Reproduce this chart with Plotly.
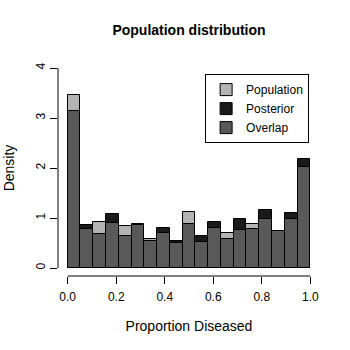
import plotly.graph_objects as go

# histogram breaks: 19 equal bins on [0, 1]
n_bins = 19
breaks = [i / n_bins for i in range(n_bins + 1)]

# densities
population = [3.46, 0.79, 0.92, 0.90, 0.85, 0.87, 0.58, 0.70, 0.51, 1.12,
              0.53, 0.80, 0.70, 0.77, 0.89, 0.98, 0.75, 0.99, 2.03]
posterior = [3.15, 0.86, 0.69, 1.09, 0.65, 0.88, 0.55, 0.80, 0.55, 0.88,
             0.65, 0.93, 0.58, 0.98, 0.78, 1.17, 0.74, 1.10, 2.19]
overlap = [min(a, b) for a, b in zip(population, posterior)]

x_ticks = [0.0, 0.2, 0.4, 0.6, 0.8, 1.0]
y_ticks = [0, 1, 2, 3, 4]

centers = [(breaks[i] + breaks[i + 1]) / 2 for i in range(n_bins)]
widths = [breaks[i + 1] - breaks[i] for i in range(n_bins)]

FONT = "Liberation Sans, Arial, sans-serif"

fig = go.Figure()
for name, vals, color in [("Population", population, "#b3b3b3"),
                          ("Posterior", posterior, "#1a1a1a"),
                          ("Overlap", overlap, "#595959")]:
    fig.add_trace(go.Bar(
        x=centers, y=vals, width=widths, name=name,
        marker=dict(color=color, line=dict(color="black", width=1)),
    ))

# R-style axis lines spanning first to last tick only
fig.add_shape(type="line", xref="x", yref="paper", x0=0, x1=1, y0=0, y1=0,
              line=dict(color="black", width=1))
fig.add_shape(type="line", xref="paper", yref="y", x0=0, x1=0, y0=0, y1=4,
              line=dict(color="black", width=1))

fig.update_layout(
    width=350, height=350,
    barmode="overlay",
    bargap=0,
    plot_bgcolor="white", paper_bgcolor="white",
    margin=dict(l=58, r=30, t=60, b=74, autoexpand=False),
    font=dict(family=FONT, size=12, color="black"),
    title=dict(text="<b>Population distribution</b>", x=0.5, xref="paper",
               y=1 - 30 / 350, yanchor="middle", font=dict(size=14)),
    xaxis=dict(range=[-0.04, 1.04], tickvals=x_ticks,
               ticktext=[f"{v:.1f}" for v in x_ticks],
               ticks="outside", ticklen=7, tickcolor="black",
               ticklabelstandoff=3,
               showgrid=False, zeroline=False, showline=False,
               automargin=False,
               title=dict(text="Proportion Diseased", standoff=17)),
    yaxis=dict(range=[-0.16, 4.16], tickvals=y_ticks, tickangle=-90,
               ticks="outside", ticklen=7, tickcolor="black",
               showgrid=False, zeroline=False, showline=False,
               automargin=False,
               title=dict(text="Density", standoff=16)),
    legend=dict(x=0.76, y=0.775, xanchor="center", yanchor="middle",
                bordercolor="black", borderwidth=1, bgcolor="white",
                itemwidth=30, font=dict(size=12)),
)

# drop the page's default body margin so the figure sits at the window corner
fig.write_html("out.html", config={"displayModeBar": False},
               post_script="document.body.style.margin = '0';")
